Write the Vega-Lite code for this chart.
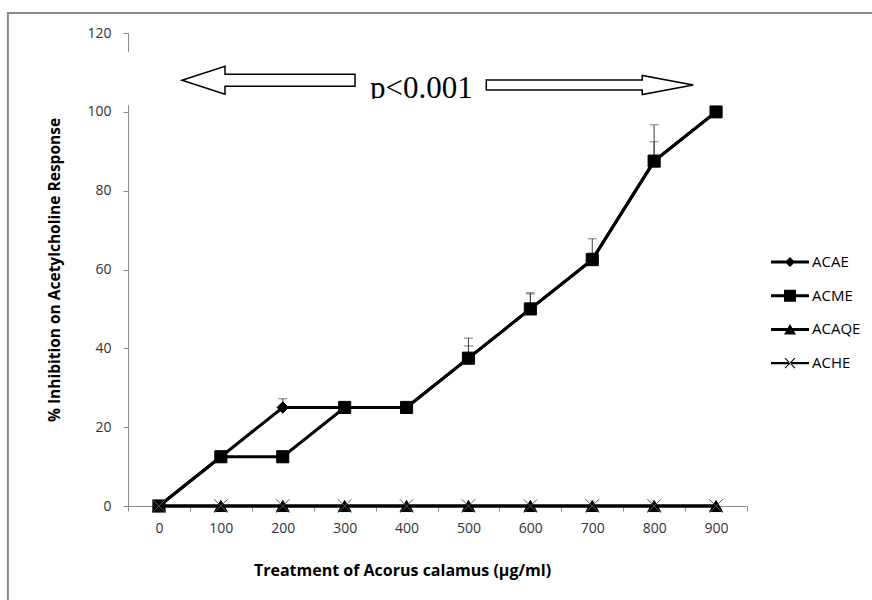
{
  "$schema": "https://vega.github.io/schema/vega-lite/v6.json",
  "width": 619,
  "height": 473,
  "autosize": {"type": "none"},
  "padding": {"left": 128, "top": 33, "right": 125, "bottom": 94},
  "background": "white",
  "config": {
    "view": {"stroke": null},
    "font": "Open Sans",
    "axis": {"grid": false, "domainColor": "#8c8c8c", "tickColor": "#8c8c8c", "tickSize": 5, "labelColor": "#333333", "labelFontSize": 14, "labelFont": "Open Sans", "titleFont": "Open Sans", "titleFontSize": 15.5, "titleFontWeight": "bold", "titleColor": "black"}
  },
  "datasets": {
    "measurements": [
      {"dose": 0, "series": "ACAE", "value": 0, "upper": 0},
      {"dose": 100, "series": "ACAE", "value": 12.5, "upper": 12.5},
      {"dose": 200, "series": "ACAE", "value": 25, "upper": 27.2},
      {"dose": 300, "series": "ACAE", "value": 25, "upper": 25},
      {"dose": 400, "series": "ACAE", "value": 25, "upper": 25},
      {"dose": 500, "series": "ACAE", "value": 37.5, "upper": 42.6},
      {"dose": 600, "series": "ACAE", "value": 50, "upper": 54.1},
      {"dose": 700, "series": "ACAE", "value": 62.5, "upper": 67.8},
      {"dose": 800, "series": "ACAE", "value": 87.5, "upper": 96.7},
      {"dose": 900, "series": "ACAE", "value": 100, "upper": 100},
      {"dose": 0, "series": "ACME", "value": 0, "upper": 0},
      {"dose": 100, "series": "ACME", "value": 12.5, "upper": 12.5},
      {"dose": 200, "series": "ACME", "value": 12.5, "upper": 12.5},
      {"dose": 300, "series": "ACME", "value": 25, "upper": 25},
      {"dose": 400, "series": "ACME", "value": 25, "upper": 25},
      {"dose": 500, "series": "ACME", "value": 37.5, "upper": 40.6},
      {"dose": 600, "series": "ACME", "value": 50, "upper": 53.8},
      {"dose": 700, "series": "ACME", "value": 62.5, "upper": 64.2},
      {"dose": 800, "series": "ACME", "value": 87.5, "upper": 92.4},
      {"dose": 900, "series": "ACME", "value": 100, "upper": 100},
      {"dose": 0, "series": "ACAQE", "value": 0, "upper": 0},
      {"dose": 100, "series": "ACAQE", "value": 0, "upper": 0},
      {"dose": 200, "series": "ACAQE", "value": 0, "upper": 0},
      {"dose": 300, "series": "ACAQE", "value": 0, "upper": 0},
      {"dose": 400, "series": "ACAQE", "value": 0, "upper": 0},
      {"dose": 500, "series": "ACAQE", "value": 0, "upper": 0},
      {"dose": 600, "series": "ACAQE", "value": 0, "upper": 0},
      {"dose": 700, "series": "ACAQE", "value": 0, "upper": 0},
      {"dose": 800, "series": "ACAQE", "value": 0, "upper": 0},
      {"dose": 900, "series": "ACAQE", "value": 0, "upper": 0},
      {"dose": 0, "series": "ACHE", "value": 0, "upper": 0},
      {"dose": 100, "series": "ACHE", "value": 0, "upper": 0},
      {"dose": 200, "series": "ACHE", "value": 0, "upper": 0},
      {"dose": 300, "series": "ACHE", "value": 0, "upper": 0},
      {"dose": 400, "series": "ACHE", "value": 0, "upper": 0},
      {"dose": 500, "series": "ACHE", "value": 0, "upper": 0},
      {"dose": 600, "series": "ACHE", "value": 0, "upper": 0},
      {"dose": 700, "series": "ACHE", "value": 0, "upper": 0},
      {"dose": 800, "series": "ACHE", "value": 0, "upper": 0},
      {"dose": 900, "series": "ACHE", "value": 0, "upper": 0}
    ],
    "annotations": [
      {"item": "frame", "x": -1.94, "x2": 13, "y": 125.1, "y2": -30},
      {"item": "box", "x": -0.45, "x2": 11.02, "y": 115.2, "y2": 101.7},
      {"item": "leftArrow", "x": 2.27, "y": 108.0},
      {"item": "rightArrow", "x": 7.46, "y": 106.8},
      {"item": "label", "x": 4.74, "y": 103.6, "text": "p<0.001"},
      {"item": "clip", "x": 3.5, "x2": 6.0, "y": 103.3, "y2": 101.7}
    ]
  },
  "layer": [
    {
      "data": {"name": "measurements"},
      "encoding": {
        "x": {
          "field": "dose", "type": "ordinal",
          "scale": {"type": "band", "paddingInner": 0, "paddingOuter": 0},
          "axis": {"title": "Treatment of Acorus calamus  (µg/ml)", "titleFontSize": 16, "labelAngle": 0, "tickBand": "extent", "labelPadding": 10, "titlePadding": 27, "titleX": 274, "titleAlign": "center"}
        },
        "y": {
          "field": "value", "type": "quantitative",
          "scale": {"domain": [0, 120], "nice": false},
          "axis": {"title": "% Inhibition on Acetylcholine Response", "values": [0, 20, 40, 60, 80, 100, 120], "labelPadding": 12, "titlePadding": 24}
        }
      },
      "layer": [
        {
          "transform": [{"filter": "datum.upper > datum.value"}],
          "mark": {"type": "rule", "color": "#404040", "strokeWidth": 1},
          "encoding": {"y2": {"field": "upper"}}
        },
        {
          "transform": [{"filter": "datum.upper > datum.value"}],
          "mark": {"type": "tick", "color": "#404040", "thickness": 1, "size": 9, "orient": "horizontal"},
          "encoding": {"y": {"field": "upper", "type": "quantitative"}}
        },
        {
          "mark": {"type": "line", "color": "black", "strokeWidth": 3},
          "encoding": {"detail": {"field": "series", "type": "nominal"}}
        },
        {
          "mark": {"type": "point", "filled": true, "opacity": 1, "strokeWidth": 1},
          "encoding": {
            "shape": {"field": "series", "type": "nominal", "scale": {"domain": ["ACAE", "ACME", "ACAQE", "ACHE"], "range": ["diamond", "square", "triangle-up", "M-1,-1L1,1M-1,1L1,-1"]}, "legend": null},
            "size": {"field": "series", "type": "nominal", "scale": {"domain": ["ACAE", "ACME", "ACAQE", "ACHE"], "range": [130, 180, 160, 80]}, "legend": null},
            "fill": {"field": "series", "type": "nominal", "scale": {"domain": ["ACAE", "ACME", "ACAQE", "ACHE"], "range": ["black", "black", "black", "transparent"]}, "legend": null},
            "stroke": {"field": "series", "type": "nominal", "scale": {"domain": ["ACAE", "ACME", "ACAQE", "ACHE"], "range": ["black", "black", "black", "#555555"]}, "legend": null}
          }
        },
        {
          "transform": [{"filter": "false"}],
          "mark": {"type": "point", "filled": true, "color": "black", "opacity": 1},
          "encoding": {
            "shape": {
              "field": "series", "type": "nominal",
              "scale": {"domain": ["ACAE", "ACME", "ACAQE", "ACHE"], "range": [
                "M-1.9,-0.15H1.9V0.15H-1.9Z M0,-0.5L0.5,0L0,0.5L-0.5,0Z",
                "M-1.9,-0.15H1.9V0.15H-1.9Z M-0.6,-0.6H0.6V0.6H-0.6Z",
                "M-1.9,-0.15H1.9V0.15H-1.9Z M0,-0.55L0.6,0.5H-0.6Z",
                "M-1.9,-0.12H1.9V0.12H-1.9Z M-0.535,-0.465L0.465,0.535L0.535,0.465L-0.465,-0.535Z M-0.535,0.465L0.465,-0.535L0.535,-0.465L-0.465,0.535Z"
              ]},
              "legend": {"title": null, "orient": "none", "legendX": 652, "legendY": 219, "padding": 0, "symbolSize": 400, "symbolStrokeWidth": 0, "labelOffset": 12, "rowPadding": 15.7, "labelFontSize": 15, "labelFont": "Open Sans", "labelColor": "black"}
            }
          }
        }
      ],
      "resolve": {"scale": {"shape": "independent"}}
    },
    {
      "data": {"name": "annotations"},
      "encoding": {
        "x": {"field": "x", "type": "quantitative", "scale": {"domain": [0, 10], "nice": false, "zero": false}, "axis": null},
        "y": {"field": "y", "type": "quantitative", "scale": {"domain": [0, 120], "nice": false}}
      },
      "layer": [
        {
          "transform": [{"filter": "datum.item == 'frame'"}],
          "mark": {"type": "rect", "fill": null, "stroke": "#8a8a8a", "strokeWidth": 2},
          "encoding": {"x2": {"field": "x2"}, "y2": {"field": "y2"}}
        },
        {
          "transform": [{"filter": "datum.item == 'box'"}],
          "mark": {"type": "rect", "fill": "white", "stroke": null},
          "encoding": {"x2": {"field": "x2"}, "y2": {"field": "y2"}}
        },
        {
          "transform": [{"filter": "datum.item == 'leftArrow'"}],
          "mark": {"type": "point", "shape": "M-1,0L-0.503,-0.162L-0.503,-0.069L1,-0.069L1,0.069L-0.503,0.069L-0.503,0.162Z", "size": 29929, "fill": "white", "stroke": "black", "strokeWidth": 1.5, "opacity": 1, "filled": false}
        },
        {
          "transform": [{"filter": "datum.item == 'rightArrow'"}],
          "mark": {"type": "point", "shape": "M1,0L0.507,-0.092L0.507,-0.048L-1,-0.048L-1,0.048L0.507,0.048L0.507,0.092Z", "size": 42849, "fill": "white", "stroke": "black", "strokeWidth": 1.5, "opacity": 1, "filled": false}
        },
        {
          "transform": [{"filter": "datum.item == 'label'"}],
          "mark": {"type": "text", "font": "Liberation Serif", "fontSize": 31, "color": "black", "align": "center", "baseline": "alphabetic"},
          "encoding": {"text": {"field": "text"}}
        },
        {
          "transform": [{"filter": "datum.item == 'clip'"}],
          "mark": {"type": "rect", "fill": "white", "stroke": null},
          "encoding": {"x2": {"field": "x2"}, "y2": {"field": "y2"}}
        }
      ]
    }
  ],
  "resolve": {"scale": {"x": "independent"}, "axis": {"x": "independent"}}
}
